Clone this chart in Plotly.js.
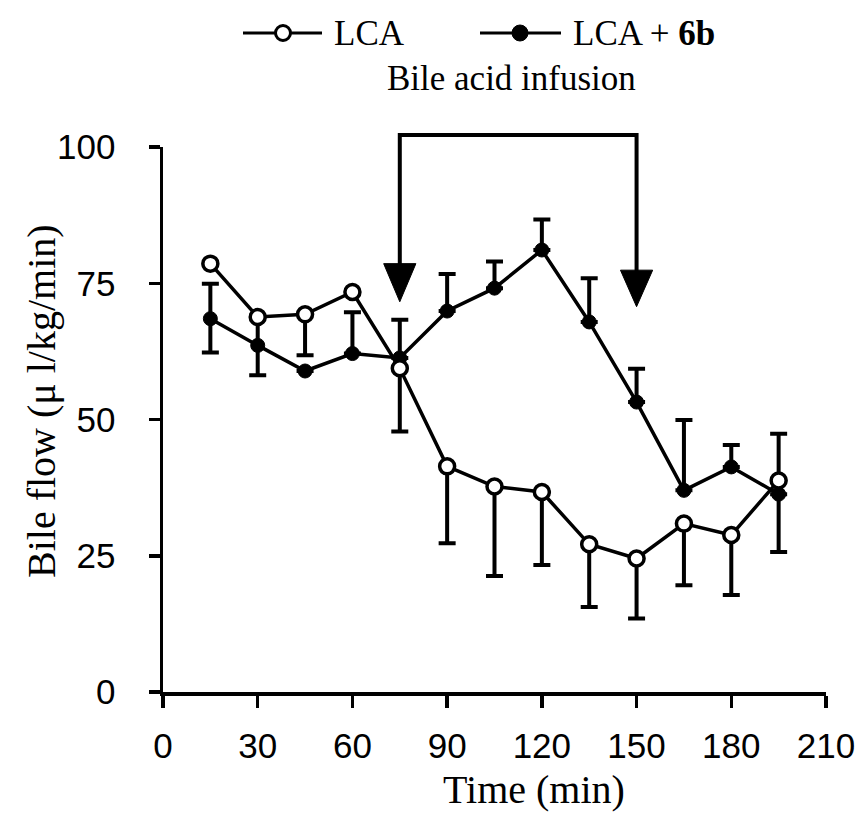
<!DOCTYPE html>
<html>
<head>
<meta charset="utf-8">
<script src="https://cdn.plot.ly/plotly-3.0.1.min.js"></script>
<style>
  html, body { margin: 0; padding: 0; background: #fff; }
  #chart { width: 856px; height: 815px; }
</style>
</head>
<body>
<div id="chart"></div>
<script>
// ---- data ----
var timeMin = [15, 30, 45, 60, 75, 90, 105, 120, 135, 150, 165, 180, 195];

var lcaFlow      = [78.6, 68.8, 69.3, 73.4, 59.4, 41.4, 37.7, 36.7, 27.1, 24.5, 30.9, 28.8, 38.8];
var lcaErrPlus   = [0, 0, 0, 0, 0, 0, 0, 0, 0, 0, 0, 0, 8.6];
var lcaErrMinus  = [0, 0, 7.5, 0, 11.6, 14.1, 16.4, 13.4, 11.5, 11.0, 11.3, 11.0, 0];

var lca6bFlow     = [68.5, 63.6, 58.9, 62.1, 61.3, 69.9, 74.1, 81.1, 67.9, 53.2, 37.0, 41.3, 36.3];
var lca6bErrPlus  = [6.4, 5.5, 0, 7.6, 7.0, 6.8, 4.9, 5.6, 8.0, 6.1, 12.9, 4.0, 0];
var lca6bErrMinus = [6.2, 5.5, 0, 0, 0, 0, 0, 0, 0, 0, 0, 0, 10.6];

var xTicks = [0, 30, 60, 90, 120, 150, 180, 210];
var yTicks = [0, 25, 50, 75, 100];

// infusion period (arrows)
var infusionStart = 75;
var infusionEnd = 150;
var arrowTop = [78.6, 77.4];   // y of triangle bases
var arrowTip = [71.6, 70.7];   // y of triangle tips

// ---- traces ----
var serif = 'Liberation Serif, Times New Roman, serif';
var sans = 'Liberation Sans, Arial, sans-serif';

var trace6b = {
  x: timeMin, y: lca6bFlow, type: 'scatter', mode: 'lines+markers',
  name: 'LCA + 6b', showlegend: false,
  line: { color: '#000', width: 3.5 },
  marker: { symbol: 'circle', size: 14, color: '#000', line: { color: '#000', width: 1 } },
  error_y: { type: 'data', symmetric: false, array: lca6bErrPlus, arrayminus: lca6bErrMinus,
             color: '#000', thickness: 4, width: 8.5 },
  cliponaxis: false
};
var traceLca = {
  x: timeMin, y: lcaFlow, type: 'scatter', mode: 'lines+markers',
  name: 'LCA', showlegend: false,
  line: { color: '#000', width: 3.5 },
  marker: { symbol: 'circle', size: 15, color: '#fff', line: { color: '#000', width: 3.5 } },
  error_y: { type: 'data', symmetric: false, array: lcaErrPlus, arrayminus: lcaErrMinus,
             color: '#000', thickness: 4, width: 8.5 },
  cliponaxis: false
};

// ---- shapes: infusion bracket + arrowheads, custom legend symbols ----
var plotTop = 147, plotBottom = 692, plotLeft = 163, plotRight = 826;
function py(p) { return (plotBottom - p) / (plotBottom - plotTop); }
function px(p) { return (p - plotLeft) / (plotRight - plotLeft); }

var halfW = 5.1;
var shapes = [
  { type: 'path', xref: 'x', yref: 'paper',
    path: 'M' + infusionStart + ',' + py(265) + ' L' + infusionStart + ',' + py(135) +
          ' L' + infusionEnd + ',' + py(135) + ' L' + infusionEnd + ',' + py(272),
    line: { color: '#000', width: 4 } },
  { type: 'path', xref: 'x', yref: 'y', fillcolor: '#000', line: { color: '#000', width: 1 },
    path: 'M' + (infusionStart - halfW) + ',' + arrowTop[0] + ' L' + (infusionStart + halfW) + ',' + arrowTop[0] +
          ' L' + infusionStart + ',' + arrowTip[0] + ' Z' },
  { type: 'path', xref: 'x', yref: 'y', fillcolor: '#000', line: { color: '#000', width: 1 },
    path: 'M' + (infusionEnd - halfW) + ',' + arrowTop[1] + ' L' + (infusionEnd + halfW) + ',' + arrowTop[1] +
          ' L' + infusionEnd + ',' + arrowTip[1] + ' Z' },
  // legend: LCA
  { type: 'line', xref: 'paper', yref: 'paper', x0: px(243), x1: px(322), y0: py(33), y1: py(33),
    line: { color: '#000', width: 3 } },
  { type: 'circle', xref: 'paper', yref: 'paper', xsizemode: 'pixel', ysizemode: 'pixel',
    xanchor: px(283), yanchor: py(33), x0: -7.5, x1: 7.5, y0: -7.5, y1: 7.5,
    fillcolor: '#fff', line: { color: '#000', width: 3 } },
  // legend: LCA + 6b
  { type: 'line', xref: 'paper', yref: 'paper', x0: px(480), x1: px(561), y0: py(33), y1: py(33),
    line: { color: '#000', width: 3 } },
  { type: 'circle', xref: 'paper', yref: 'paper', xsizemode: 'pixel', ysizemode: 'pixel',
    xanchor: px(520), yanchor: py(33), x0: -8, x1: 8, y0: -8, y1: 8,
    fillcolor: '#000', line: { color: '#000', width: 1 } }
];

var annotations = [
  { text: 'LCA', xref: 'paper', yref: 'paper', x: px(332), y: py(33), xanchor: 'left', yanchor: 'middle',
    showarrow: false, font: { family: serif, size: 35, color: '#000' } },
  { text: 'LCA + <b>6b</b>', xref: 'paper', yref: 'paper', x: px(571), y: py(33), xanchor: 'left', yanchor: 'middle',
    showarrow: false, font: { family: serif, size: 35, color: '#000' } },
  { text: 'Bile acid infusion', xref: 'paper', yref: 'paper', x: px(511), y: py(78), xanchor: 'center', yanchor: 'middle',
    showarrow: false, font: { family: serif, size: 35, color: '#000' } },
  { text: 'Time (min)', xref: 'paper', yref: 'paper', x: px(534), y: py(789), xanchor: 'center', yanchor: 'middle',
    showarrow: false, font: { family: serif, size: 40, color: '#000' } },
  { text: 'Bile flow (\u03bc l/kg/min)', xref: 'paper', yref: 'paper', x: px(41), y: py(401), xanchor: 'center', yanchor: 'middle',
    textangle: -90, showarrow: false, font: { family: serif, size: 40, color: '#000' } }
];

var layout = {
  width: 856, height: 815,
  margin: { l: plotLeft, r: 856 - plotRight, t: plotTop, b: 815 - plotBottom },
  paper_bgcolor: '#fff', plot_bgcolor: '#fff',
  showlegend: false,
  xaxis: {
    range: [0, 210], tickvals: xTicks, ticktext: xTicks.map(String),
    showgrid: false, zeroline: false, showline: true, linecolor: '#000', linewidth: 3.5,
    ticks: 'outside', ticklen: 12, tickwidth: 3.5, tickcolor: '#000',
    tickfont: { family: sans, size: 35, color: '#000' }, ticklabelstandoff: 8
  },
  yaxis: {
    range: [0, 100], tickvals: yTicks, ticktext: yTicks.map(String),
    showgrid: false, zeroline: false, showline: true, linecolor: '#000', linewidth: 3.5,
    ticks: 'outside', ticklen: 11, tickwidth: 3.5, tickcolor: '#000',
    tickfont: { family: sans, size: 35, color: '#000' }, ticklabelstandoff: 26
  },
  shapes: shapes,
  annotations: annotations
};

Plotly.newPlot('chart', [trace6b, traceLca], layout, { staticPlot: true, displayModeBar: false });
</script>
</body>
</html>
